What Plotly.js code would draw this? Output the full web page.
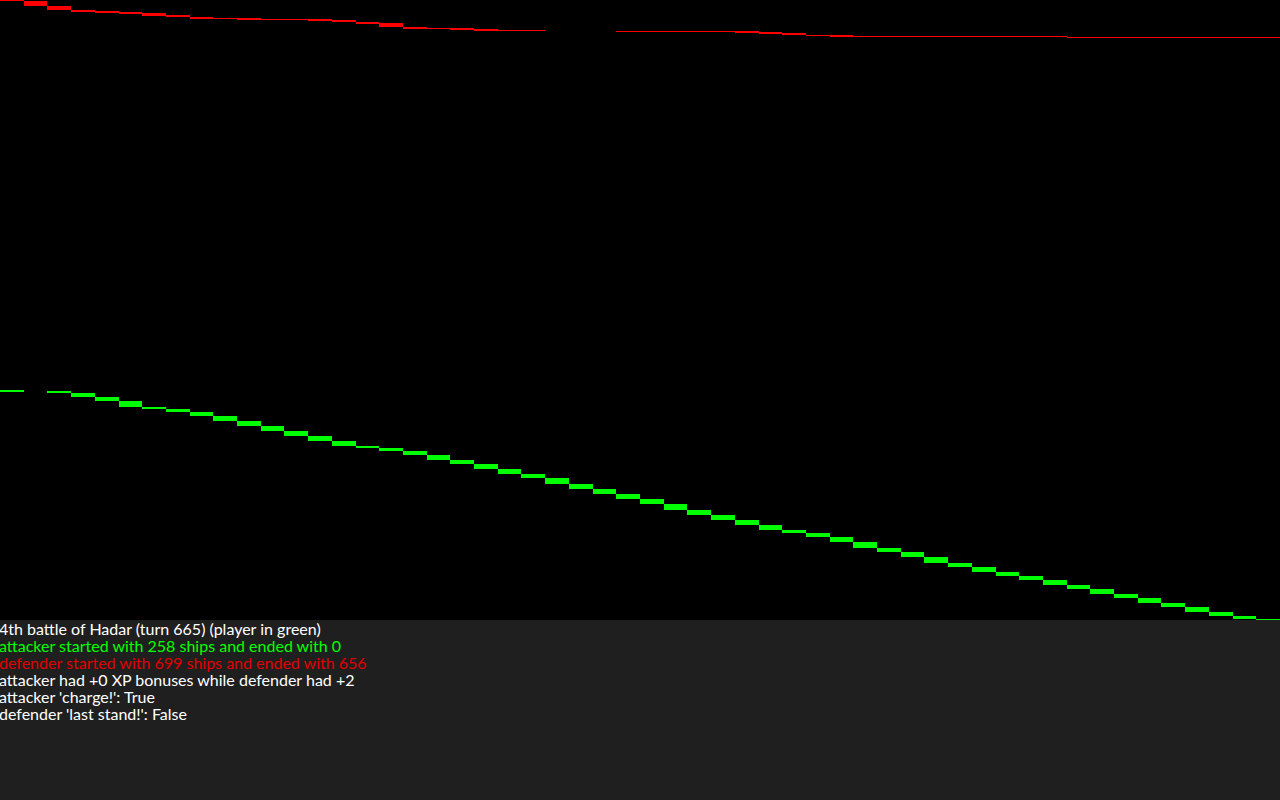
<!DOCTYPE html>
<html>
<head>
<meta charset="utf-8">
<script src="https://cdn.plot.ly/plotly-3.0.1.min.js"></script>
<style>
  html, body { margin: 0; padding: 0; background: #1f1f1f; }
  #chart { width: 1280px; height: 800px; }
</style>
</head>
<body>
<div id="chart"></div>
<script>
// Rounds of the battle (one column per round)
const rounds = Array.from({length: 54}, (_, i) => i);

// Ships at the start of the battle
const attackerStart = 258;
const defenderStart = 699;

// Ships remaining after each round
const attackerAfter = [257, 257, 256, 251, 246, 240, 238, 234, 230, 224,
                       218, 213, 207, 202, 196, 194, 190, 186, 180, 176,
                       170, 164, 160, 153, 148, 142, 136, 131, 124, 118,
                       113, 107, 101, 98, 93, 88, 81, 77, 71, 64,
                       60, 54, 50, 45, 39, 35, 29, 25, 19, 15,
                       9, 4, 1, 0];

const defenderAfter = [696.5, 691.6, 687.1, 684.8, 684.2, 683.0, 681.1, 679.2, 677.0, 676.7,
                       676.4, 676.1, 675.8, 674.6, 673.4, 671.9, 668.0, 666.2, 665.7, 664.6,
                       664.1, 663.6, 663.1, 663.1, 663.1, 663.1, 662.9, 662.7, 662.5, 662.3,
                       662.1, 661.9, 660.3, 658.6, 657.5, 657.2, 657.0, 656.8, 656.7, 656.65,
                       656.6, 656.5, 656.45, 656.4, 656.35, 656.3, 656.25, 656.2, 656.15, 656.1,
                       656.08, 656.05, 656.02, 656.0];

// Caption lines
const captionLines = [
  "4th battle of Hadar (turn 665) (player in green)",
  "attacker started with 258 ships and ended with 0",
  "defender started with 699 ships and ended with 656",
  "attacker had +0 XP bonuses while defender had +2",
  "attacker 'charge!': True",
  "defender 'last stand!': False"
];
const captionColors = ["#ffffff", "#00ff00", "#e00000", "#ffffff", "#ffffff", "#ffffff"];

// loss in each round; rounds without losses are left empty
function losses(start, after) {
  return after.map((v, i) => {
    const d = (i === 0 ? start : after[i - 1]) - v;
    return d > 0 ? d : null;
  });
}

const traceAttacker = {
  type: 'bar',
  x: rounds,
  y: losses(attackerStart, attackerAfter),
  base: attackerAfter,
  width: 1,
  marker: {color: '#00ff00', line: {width: 0}},
  hoverinfo: 'skip',
  showlegend: false
};
const traceDefender = {
  type: 'bar',
  x: rounds,
  y: losses(defenderStart, defenderAfter),
  base: defenderAfter,
  width: 1,
  marker: {color: '#ff0000', line: {width: 0}},
  hoverinfo: 'skip',
  showlegend: false
};

const annotations = captionLines.map((t, i) => ({
  text: t,
  xref: 'paper', yref: 'paper',
  x: 0, y: 0,
  xanchor: 'left', yanchor: 'top',
  yshift: -i * 17 + 2,
  xshift: -2,
  showarrow: false,
  align: 'left',
  borderpad: 0,
  font: {family: 'Lato, sans-serif', size: 16, color: captionColors[i]}
}));

const layout = {
  width: 1280, height: 800,
  margin: {l: 0, r: 0, t: 0, b: 180, pad: 0},
  paper_bgcolor: '#1f1f1f',
  plot_bgcolor: '#000000',
  barmode: 'overlay',
  bargap: 0,
  hovermode: false,
  dragmode: false,
  xaxis: {range: [-0.5, 53.5], visible: false, fixedrange: true},
  yaxis: {range: [0, 698], visible: false, fixedrange: true},
  annotations: annotations,
  showlegend: false
};

Plotly.newPlot('chart', [traceDefender, traceAttacker], layout, {displayModeBar: false});
</script>
</body>
</html>
